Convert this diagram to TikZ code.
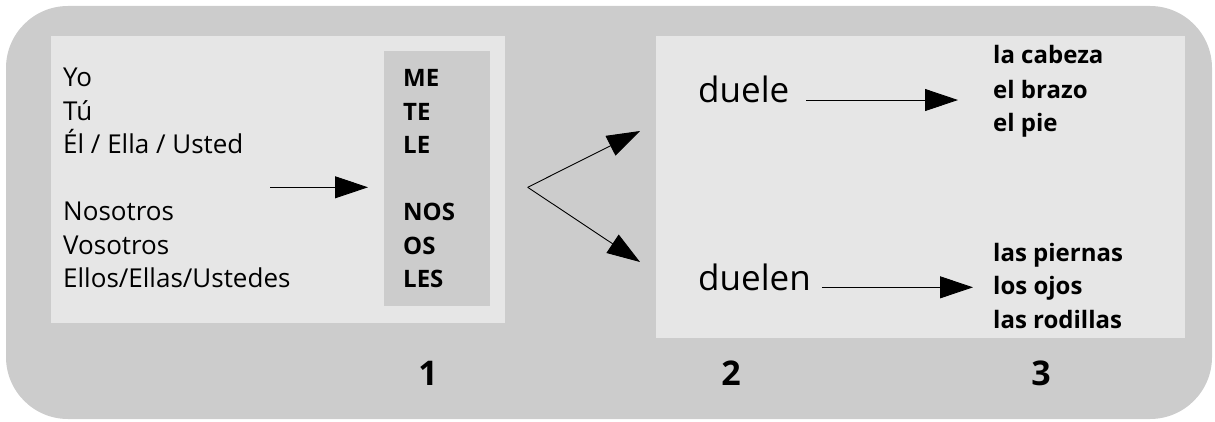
\documentclass[tikz,border=0pt]{standalone}
\usepackage{fontspec}
\setmainfont{Open Sans}
\usetikzlibrary{arrows.meta,positioning}
\definecolor{panelgray}{HTML}{CCCCCC}
\definecolor{boxgray}{HTML}{E6E6E6}

\begin{document}
\begin{tikzpicture}[x=1pt,y=-1pt,
   pron/.style={anchor=base west,inner sep=0pt,font=\fontsize{26}{30}\selectfont},
   clitic/.style={pron,font=\fontsize{24}{28}\selectfont\bfseries},
   verb/.style={anchor=base west,inner sep=0pt,font=\fontsize{35}{40}\selectfont},
   num/.style={anchor=base,inner sep=0pt,font=\fontsize{34}{40}\selectfont\bfseries},
   arr/.style={-{Triangle[length=33pt,width=22pt]},line width=0.9pt}]
   \useasboundingbox (0,0) rectangle (1215,422);
   % panels
   \fill[panelgray, rounded corners=62pt] (6,6) rectangle (1212,419);
   \fill[boxgray] (51,36) rectangle (505,323);
   \fill[panelgray] (384,51) rectangle (490,306);
   \fill[boxgray] (656,36) rectangle (1185,338);

   % pronouns
   \node[pron] (yo)       at (63,86.7)  {Yo};
   \node[pron] (tu)       at (63,120.2) {Tú};
   \node[pron] (el)       at (63,153.7) {Él / Ella / Usted};
   \node[pron] (nosotros) at (63,220.7) {Nosotros};
   \node[pron] (vosotros) at (63,254.2) {Vosotros};
   \node[pron] (ellos)    at (63,287.7) {Ellos/Ellas/Ustedes};
   \node[clitic] (me)  at (403,86.7)  {ME};
   \node[clitic] (te)  at (403,120.2) {TE};
   \node[clitic] (le)  at (403,153.7) {LE};
   \node[clitic] (nos) at (403,220.7) {NOS};
   \node[clitic] (os)  at (403,254.2) {OS};
   \node[clitic] (les) at (403,287.7) {LES};

   % verbs and body parts
   \node[verb] (duele)  at (698,102.7) {duele};
   \node[verb] (duelen) at (698,290)   {duelen};
   \node[clitic] (cabeza)   at (993,64)    {la cabeza};
   \node[clitic] (brazo)    at (993,98.5)  {el brazo};
   \node[clitic] (pie)      at (993,132)   {el pie};
   \node[clitic] (piernas)  at (993,261.7) {las piernas};
   \node[clitic] (ojos)     at (993,294.5) {los ojos};
   \node[clitic] (rodillas) at (993,328)   {las rodillas};

   \node[num] (n1) at (428,385)  {1};
   \node[num] (n2) at (731,385)  {2};
   \node[num] (n3) at (1041,385) {3};

   % arrows
   \coordinate (from)  at (270,187.3);
   \coordinate (to)    at (368,187.3);
   \coordinate (fork)  at (527.7,187.3);
   \coordinate (up)    at (640,131);
   \coordinate (down)  at (640,262);
   \draw[arr] (from) -- (to);
   \draw[arr] (fork) -- (up);
   \draw[arr] (fork) -- (down);
   \draw[arr, shorten <=17pt, shorten >=35pt] (duele.mid east) -- (duele.mid east -| brazo.west);
   \draw[arr, shorten <=11pt, shorten >=20pt] (duelen.mid east) -- (duelen.mid east -| ojos.west);
\end{tikzpicture}
\end{document}
